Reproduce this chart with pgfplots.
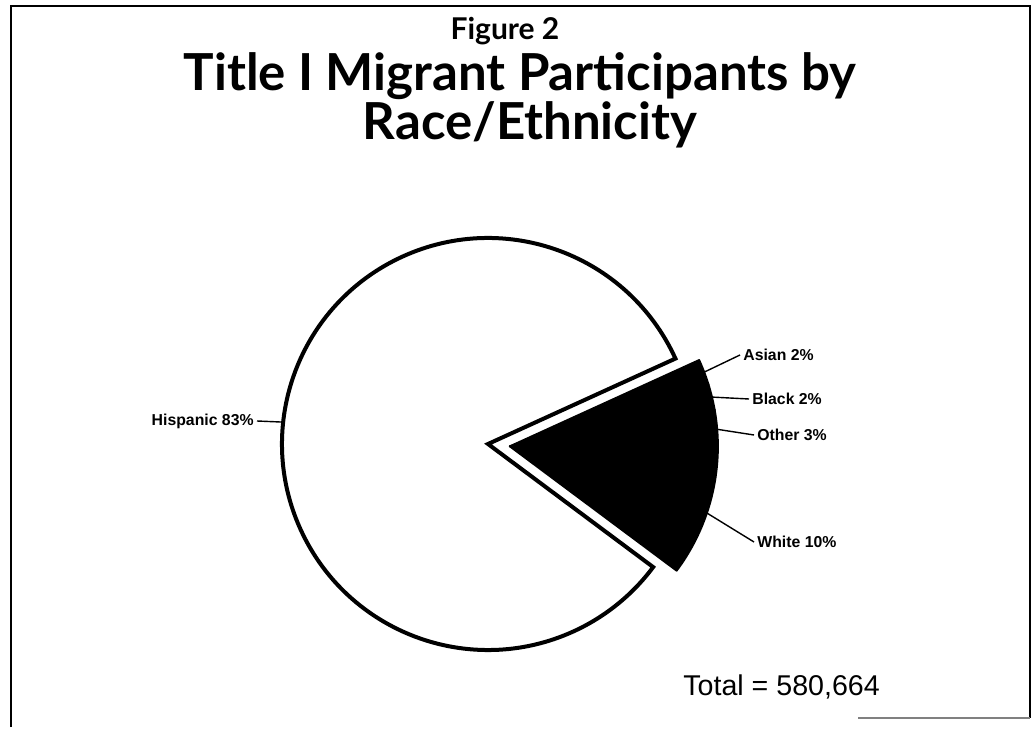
\documentclass[border=0pt]{standalone}
\usepackage{pgfplots}
\pgfplotsset{compat=1.18}
\usepackage{pgfplotstable}
\usepackage{fontspec}
\setmainfont{Liberation Sans}
\newfontfamily\titlefont{Lato}

% slice data: value in %, ex = exploded, r = radius (px), lx/ly = label anchor (px)
\pgfplotstableread{
name value ex r lx ly
White 10 1 208 757 185
Other 3 1 208 757 292
Black 2 1 208 752 328
Asian 2 1 208 743 372
Hispanic 83 0 206 254 306
}\piedata

\begin{document}
\begin{tikzpicture}
\begin{axis}[x=0.5pt, y=0.5pt, xmin=0, xmax=1033, ymin=0, ymax=727,
  hide axis, clip=false]
  \path (axis cs:0,0) rectangle (axis cs:1033,727);
  % frame
  \draw[line width=1pt] (axis cs:11,0) -- (axis cs:11,721) -- (axis cs:1030,721) -- (axis cs:1030,9);
  \draw[gray, line width=0.6pt] (axis cs:858,9) -- (axis cs:1030,9);

  \def\startang{-36.7}
  \def\cx{488}\def\cy{283}
  \pgfmathsetmacro\gmid{\startang+3.6*17/2}
  \pgfmathsetmacro\exx{22*cos(\gmid)}
  \pgfmathsetmacro\exy{22*sin(\gmid)}
  \gdef\cum{0}
  \pgfplotsinvokeforeach{0,...,4}{
    \pgfplotstablegetelem{#1}{name}\of\piedata \edef\nm{\pgfplotsretval}
    \pgfplotstablegetelem{#1}{value}\of\piedata \edef\val{\pgfplotsretval}
    \pgfplotstablegetelem{#1}{ex}\of\piedata \edef\exf{\pgfplotsretval}
    \pgfplotstablegetelem{#1}{r}\of\piedata \edef\rr{\pgfplotsretval}
    \pgfplotstablegetelem{#1}{lx}\of\piedata \edef\lx{\pgfplotsretval}
    \pgfplotstablegetelem{#1}{ly}\of\piedata \edef\ly{\pgfplotsretval}
    \pgfmathsetmacro\a{\startang+3.6*\cum}
    \pgfmathsetmacro\b{\a+3.6*\val}
    \pgfmathsetmacro\m{(\a+\b)/2}
    \pgfmathsetmacro\px{\cx+\exf*\exx}
    \pgfmathsetmacro\py{\cy+\exf*\exy}
    \pgfmathsetmacro\rad{\rr/2}
    \pgfmathsetmacro\sx{\px+\rr*cos(\m)}
    \pgfmathsetmacro\sy{\py+\rr*sin(\m)}
    \ifdim\lx pt>\cx pt
      \pgfmathsetmacro\ex{\lx-3}\def\anc{west}
    \else
      \pgfmathsetmacro\ex{\lx+3}\def\anc{east}
    \fi
    \ifdim\exf pt>0pt
      \def\sty{fill=black, draw=black, line width=1pt, line join=round}
    \else
      \def\sty{fill=white, draw=black, line width=2pt, line join=miter}
    \fi
    \edef\temp{%
      \noexpand\filldraw[\sty] (axis cs:\px,\py) -- ++(\a:\rad pt)
        arc[start angle=\a, end angle=\b, radius=\rad pt] -- cycle;
      \noexpand\draw[line width=0.7pt] (axis cs:\sx,\sy) -- (axis cs:\ex,\ly);
      \noexpand\node[anchor=\anc, inner sep=0pt, font=\noexpand\bfseries\noexpand\fontsize{7.9}{9}\noexpand\selectfont]
        at (axis cs:\lx,\ly) {\nm\ \val\%};
    }
    \temp
    \pgfmathsetmacro\newcum{\cum+\val}
    \xdef\cum{\newcum}
  }

  % titles
  \node[anchor=base, font=\titlefont\bfseries\fontsize{15}{17}\selectfont] at (axis cs:505,687) {Figure 2};
  \node[anchor=base, font=\titlefont\bfseries\fontsize{25.5}{28}\selectfont] at (axis cs:520,636) {Title I Migrant Participants by};
  \node[anchor=base, font=\titlefont\bfseries\fontsize{25.5}{28}\selectfont] at (axis cs:530,587) {Race/Ethnicity};
  \node[anchor=west, inner sep=0pt, font=\fontsize{14.3}{16}\selectfont] at (axis cs:683,40) {Total = 580,664};
\end{axis}
\end{tikzpicture}
\end{document}
